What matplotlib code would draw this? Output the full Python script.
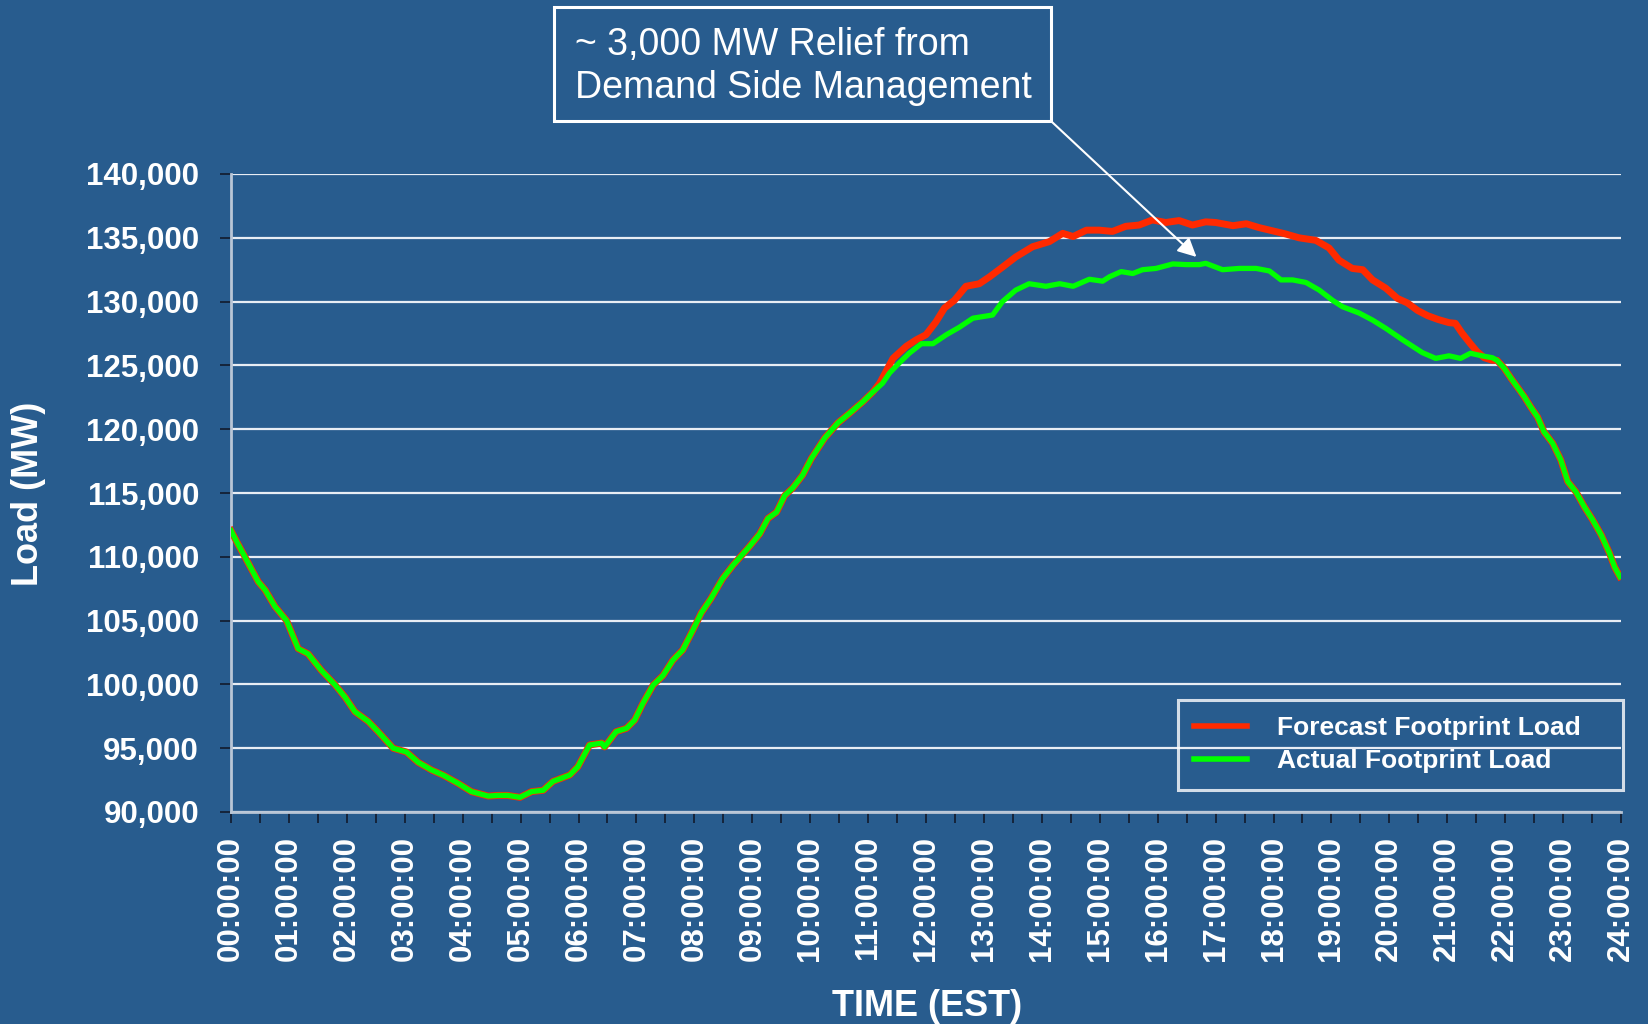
import numpy as np
import matplotlib
matplotlib.use('Agg')
import matplotlib.pyplot as plt
from matplotlib.patches import Rectangle
from matplotlib.ticker import FuncFormatter, MultipleLocator

plt.rcParams['font.family'] = ['Liberation Sans', 'DejaVu Sans']

BG = '#285c8e'
RED = '#ff2a00'
GREEN = '#00ff00'

# actual footprint load, hours since midnight and MW
act_hours = [0.00, 0.12, 0.24, 0.47, 0.59, 0.76, 0.96, 1.16, 1.33, 1.56, 1.79, 1.97,
             2.14, 2.37, 2.54, 2.80, 3.03, 3.23, 3.46, 3.66, 3.92, 4.15, 4.44, 4.61,
             4.78, 4.99, 5.19, 5.39, 5.56, 5.85, 5.99, 6.19, 6.40, 6.45, 6.65, 6.83,
             6.97, 7.11, 7.29, 7.46, 7.63, 7.80, 7.98, 8.12, 8.29, 8.49, 8.67, 8.95,
             9.13, 9.27, 9.42, 9.56, 9.70, 9.87, 10.02, 10.25, 10.48, 10.68, 10.91, 11.08,
             11.25, 11.37, 11.54, 11.71, 11.92, 12.12, 12.35, 12.58, 12.81, 13.15, 13.32, 13.55,
             13.78, 14.07, 14.31, 14.54, 14.82, 15.05, 15.17, 15.37, 15.57, 15.74, 15.97, 16.26,
             16.49, 16.72, 16.83, 17.12, 17.41, 17.70, 17.93, 18.13, 18.33, 18.56, 18.79, 19.02,
             19.19, 19.48, 19.71, 19.94, 20.23, 20.40, 20.57, 20.80, 21.03, 21.23, 21.40, 21.60,
             21.78, 21.86, 21.98, 22.10, 22.21, 22.33, 22.44, 22.56, 22.67, 22.82, 22.96, 23.08,
             23.22, 23.37, 23.51, 23.66, 23.80, 23.89, 23.98]
act_mw = [112050, 111000, 110000, 108050, 107400, 106100, 105000, 102800, 102400, 101100, 100000, 99000,
          97860, 97100, 96300, 95000, 94700, 93900, 93300, 92900, 92250, 91600, 91250, 91300,
          91300, 91150, 91600, 91700, 92400, 92900, 93550, 95250, 95400, 95100, 96300, 96560,
          97200, 98500, 99950, 100700, 101900, 102700, 104300, 105600, 106750, 108300, 109350, 110800,
          111800, 113000, 113500, 114800, 115400, 116400, 117700, 119300, 120500, 121250, 122150, 122900,
          123600, 124400, 125200, 125950, 126700, 126700, 127400, 128000, 128700, 128950, 130000, 130900,
          131400, 131200, 131400, 131200, 131750, 131600, 131950, 132350, 132200, 132500, 132600, 132950,
          132900, 132900, 133000, 132500, 132600, 132600, 132400, 131700, 131700, 131500, 130900, 130100,
          129600, 129100, 128550, 127900, 127000, 126500, 126000, 125550, 125750, 125550, 125950, 125750,
          125600, 125400, 124800, 124000, 123300, 122550, 121750, 120950, 119800, 118900, 117600, 115900,
          115100, 113900, 112900, 111700, 110300, 109200, 108450]

# forecast load where it departs from the actual curve (about 11:10 to 21:50)
fc_mid_hours = [11.20, 11.43, 11.66, 11.83, 12.00, 12.17, 12.32, 12.49, 12.69, 12.92, 13.10, 13.32,
                13.55, 13.84, 14.13, 14.36, 14.54, 14.77, 14.99, 15.22, 15.45, 15.68, 15.91, 16.14,
                16.37, 16.60, 16.83, 17.00, 17.30, 17.53, 17.75, 17.98, 18.21, 18.44, 18.73, 18.96,
                19.13, 19.36, 19.54, 19.71, 19.94, 20.14, 20.31, 20.49, 20.66, 20.84, 21.03, 21.14,
                21.26, 21.40, 21.51, 21.64, 21.78]
fc_mid_mw = [123600, 125550, 126500, 127000, 127400, 128400, 129500, 130100, 131200, 131400, 131950, 132700,
             133500, 134300, 134700, 135350, 135100, 135600, 135600, 135500, 135900, 136000, 136400, 136200,
             136350, 136000, 136250, 136200, 135950, 136100, 135800, 135550, 135300, 135000, 134800, 134200,
             133250, 132600, 132500, 131700, 131050, 130250, 129900, 129300, 128900, 128600, 128350, 128300,
             127500, 126700, 126100, 125600, 125400]

y_ticks = list(range(90000, 140001, 5000))
x_hours = list(range(0, 25))
x_labels = ['%02d:00:00' % h for h in x_hours]

act_hours = np.array(act_hours)
act_mw = np.array(act_mw)
before = act_hours < 11.1
after = act_hours >= 21.86
fc_hours = np.concatenate([act_hours[before], fc_mid_hours, act_hours[after]])
fc_mw = np.concatenate([act_mw[before], fc_mid_mw, act_mw[after]])

fig = plt.figure(figsize=(16.48, 10.24), dpi=100, facecolor=BG)
W, H = 1648.0, 1024.0
ax = fig.add_axes([231 / W, 1 - 812 / H, 1390 / W, 638 / H])
ax.set_facecolor(BG)

ax.plot(fc_hours, fc_mw, color=RED, lw=5.0, solid_joinstyle='round', label='Forecast Footprint Load', zorder=3)
ax.plot(act_hours, act_mw, color=GREEN, lw=3.8, solid_joinstyle='round', label='Actual Footprint Load', zorder=4)

ax.set_xlim(0, 24)
ax.set_ylim(90000, 140000)
ax.set_yticks(y_ticks)
ax.yaxis.set_major_formatter(FuncFormatter(lambda v, p: '{:,.0f}'.format(v)))
ax.set_xticks(x_hours)
ax.set_xticklabels(x_labels, rotation=90, va='top', ha='center')
ax.xaxis.set_minor_locator(MultipleLocator(0.5))

ax.grid(axis='y', color='#e8edf4', lw=1.6)
ax.set_axisbelow(True)
for s in ['top', 'right']:
    ax.spines[s].set_visible(False)
for s in ['left', 'bottom']:
    ax.spines[s].set_color('#b9c6d6')
    ax.spines[s].set_linewidth(2)

ax.tick_params(axis='both', which='both', direction='out', length=8, width=1.4, color='#15243a')
ax.tick_params(axis='y', pad=15, labelsize=22.5, labelcolor='white')
ax.tick_params(axis='x', pad=9, labelsize=22.5, labelcolor='white')
for t in ax.get_xticklabels() + ax.get_yticklabels():
    t.set_fontweight('bold')

fig.text(29 / W, 1 - 494 / H, 'Load (MW)', rotation=90, ha='center', va='center',
         fontsize=26, fontweight='bold', color='white')
fig.text(927 / W, 1 - 1016 / H, 'TIME (EST)', ha='center', va='baseline',
         fontsize=26, fontweight='bold', color='white')

# callout box
fig.patches.append(Rectangle((554 / W, 1 - 121 / H), 497 / W, 114 / H, transform=fig.transFigure,
                             facecolor='none', edgecolor='white', lw=2.2))
fig.text(575 / W, 1 - 55 / H, '~ 3,000 MW Relief from', ha='left', va='baseline',
         fontsize=27, color='white')
fig.text(575 / W, 1 - 98 / H, 'Demand Side Management', ha='left', va='baseline',
         fontsize=27, color='white')
ax.annotate('', xy=(16.67, 133500), xycoords='data',
            xytext=(1052 / W, 1 - 122 / H), textcoords='figure fraction',
            arrowprops=dict(arrowstyle='-|>', color='white', lw=1.5, mutation_scale=28,
                            shrinkA=0, shrinkB=0), zorder=6)

leg = ax.legend(loc='upper left', bbox_to_anchor=(1178 / W, 1 - 700 / H, 445 / W, 0.0),
                bbox_transform=fig.transFigure, mode='expand', borderaxespad=0,
                handlelength=2.0, handletextpad=1.15, labelspacing=0.34,
                borderpad=0.62, fancybox=False, frameon=True, prop={'weight': 'bold', 'size': 19})
leg.get_frame().set_facecolor('none')
leg.get_frame().set_edgecolor('white')
leg.get_frame().set_linewidth(2.2)
for t in leg.get_texts():
    t.set_color('white')
for l in leg.get_lines():
    l.set_linewidth(4)

fig.savefig('out.png', dpi=100, facecolor=BG)
